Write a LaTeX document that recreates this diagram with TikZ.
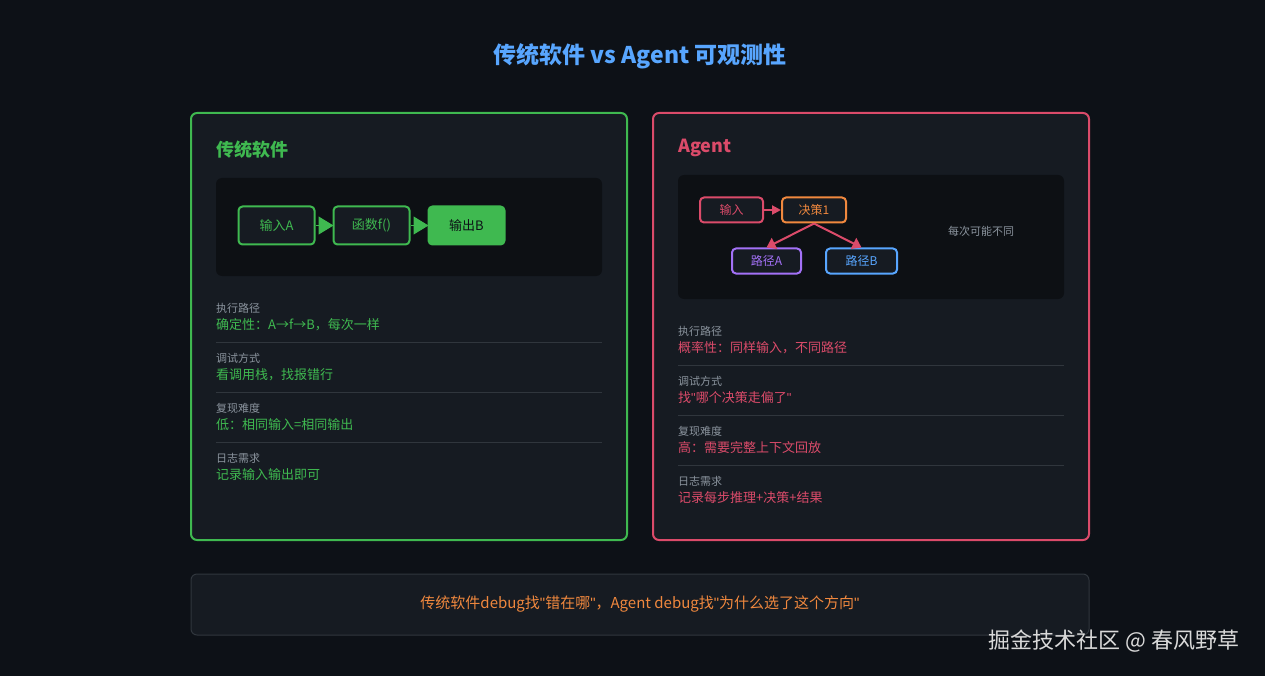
\documentclass[tikz,border=0pt]{standalone}
\usepackage{fontspec}
\setmainfont{Noto Sans CJK SC}
\newfontfamily\latinfont{Liberation Sans}
\usetikzlibrary{positioning, arrows.meta}
\definecolor{bgdark}{HTML}{0D1117}
\definecolor{panel}{HTML}{161B22}
\definecolor{inner}{HTML}{0D1014}
\definecolor{okgreen}{HTML}{3FB950}
\definecolor{badred}{HTML}{DB4B6A}
\definecolor{accblue}{HTML}{58A6FF}
\definecolor{accorange}{HTML}{F0883E}
\definecolor{accpurple}{HTML}{A371F7}
\definecolor{mutedgrey}{HTML}{8B949E}
\definecolor{rulegrey}{HTML}{30363D}
\newcommand{\dq}{{\latinfont\symbol{34}}}
\begin{document}
\begin{tikzpicture}[
		x=1pt, y=-1pt,
		>={Triangle[length=15pt, width=18pt]}, % Arrow style
		node distance=17pt,
		panelbox/.style={draw, line width=2pt, rounded corners=6pt, fill=panel},
		flow/.style={draw, line width=2pt, rounded corners=4pt, fill=panel, minimum height=38pt, minimum width=76pt, font=\fontsize{13}{15}\selectfont, inner sep=0pt},
		mini/.style={draw, line width=2pt, rounded corners=4pt, fill=panel, minimum height=25pt, font=\fontsize{12}{14}\selectfont, inner sep=0pt},
		rowlabel/.style={anchor=west, text=mutedgrey, font=\fontsize{11}{13}\selectfont, inner sep=0pt},
		rowvalue/.style={anchor=west, font=\fontsize{13}{15}\selectfont, inner sep=0pt}
	]
	% Background and margins
	\fill[bgdark] (0,0) rectangle (1265,676);
	\useasboundingbox (0,0) rectangle (1265,676);

	% Title
	\node[text=accblue, font=\fontsize{23}{27}\selectfont\bfseries] (title) at (640,56) {传统软件 vs Agent 可观测性};

	% Left panel: traditional software
	\draw[panelbox, draw=okgreen] (191,113) rectangle (627,540);
	\node[anchor=west, text=okgreen, font=\fontsize{18}{22}\selectfont\bfseries, inner sep=0pt] (leftTitle) at (216,150) {传统软件};
	\fill[inner, rounded corners=6pt] (216,178) rectangle (602,276);

	\node[flow, draw=okgreen, text=okgreen] (inA) at (276.5,225.5) {输入A};
	\node[flow, draw=okgreen, text=okgreen, right=of inA] (func) {函数f()};
	\node[flow, draw=okgreen, fill=okgreen, text=bgdark, right=of func] (outB) {输出B};
	\draw[->, okgreen, line width=1pt, shorten >=-1pt] (inA) -- (func);
	\draw[->, okgreen, line width=1pt, shorten >=-1pt] (func) -- (outB);

	% Left rows
	\foreach \y/\lab/\val in {308/执行路径/{确定性：A→f→B，每次一样}, 358/调试方式/{看调用栈，找报错行}, 408/复现难度/{低：相同输入=相同输出}, 458/日志需求/{记录输入输出即可}}{
		\node[rowlabel] at (216,\y) {\lab};
		\node[rowvalue, text=okgreen] at (216,\y+17) {\val};
	}
	\foreach \y in {342,392,442}
		\draw[rulegrey, line width=1pt] (216,\y) -- (602,\y);

	% Right panel: agent
	\draw[panelbox, draw=badred] (653,113) rectangle (1089,540);
	\node[anchor=west, text=badred, font=\fontsize{18}{22}\selectfont\bfseries, inner sep=0pt] (rightTitle) at (678,148) {Agent};
	\fill[inner, rounded corners=6pt] (678,175) rectangle (1064,299);

	\node[mini, draw=badred, text=badred, minimum width=63pt] (agIn) at (731.5,210) {输入};
	\node[mini, draw=accorange, text=accorange, minimum width=64pt] (decide) at (814,210) {决策1};
	\node[mini, draw=accpurple, text=accpurple, minimum width=69pt] (pathA) at (766.5,261) {路径A};
	\node[mini, draw=accblue, text=accblue, minimum width=71pt] (pathB) at (861.5,261) {路径B};
	\draw[-{Triangle[length=9pt, width=9pt]}, badred, line width=2pt] (agIn) -- (decide);
	\draw[-{Triangle[length=9pt, width=12pt]}, badred, line width=2pt] (decide.south) -- (pathA.north);
	\draw[-{Triangle[length=9pt, width=12pt]}, badred, line width=2pt] (decide.south) -- (pathB.north);
	\node[text=mutedgrey, font=\fontsize{11}{13}\selectfont] (vary) at (981,231) {每次可能不同};

	% Right rows
	\foreach \y/\lab/\val in {331/执行路径/{概率性：同样输入，不同路径}, 381/调试方式/{找\dq 哪个决策走偏了\dq}, 431/复现难度/{高：需要完整上下文回放}, 481/日志需求/{记录每步推理+决策+结果}}{
		\node[rowlabel] at (678,\y) {\lab};
		\node[rowvalue, text=badred] at (678,\y+17) {\val};
	}
	\foreach \y in {365,415,465}
		\draw[rulegrey, line width=1pt] (678,\y) -- (1064,\y);

	% Summary box
	\draw[rulegrey, fill=panel, rounded corners=6pt, line width=1pt] (191,574) rectangle (1089,635);
	\node[text=accorange, font=\fontsize{15}{18}\selectfont] (summary) at (640,604) {传统软件debug找\dq 错在哪\dq ，Agent debug找\dq 为什么选了这个方向\dq};

	% Watermark
	\node[anchor=east, text=white!85!black, font=\fontsize{22}{26}\selectfont] (mark) at (1243,641) {掘金技术社区 @ 春风野草};
\end{tikzpicture}
\end{document}
